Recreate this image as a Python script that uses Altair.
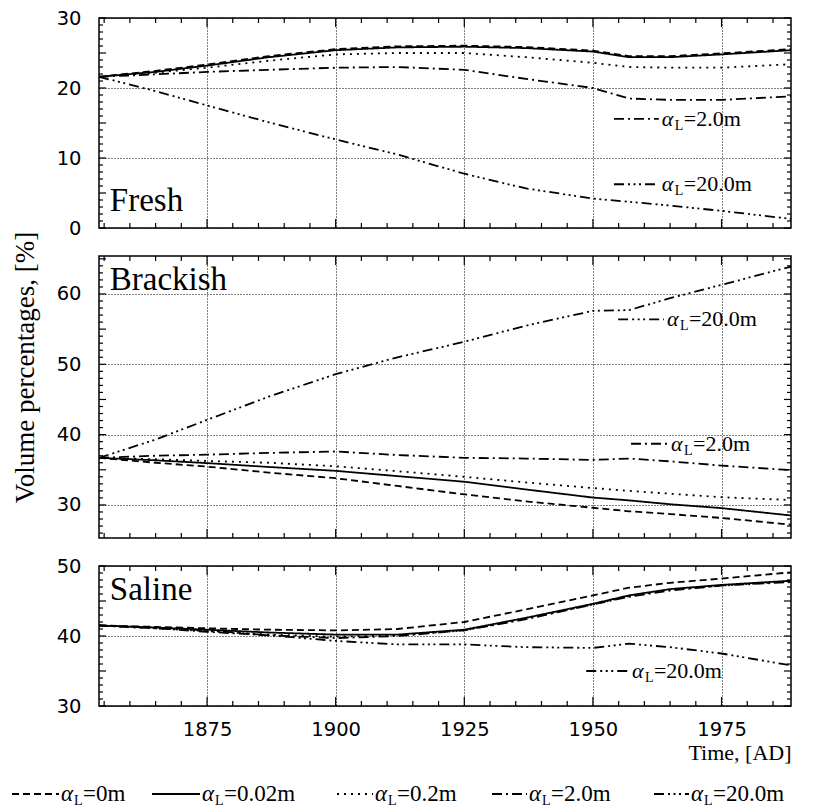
import math
import altair as alt
import pandas as pd

# ---------------- data ----------------
years = [1854, 1865, 1875, 1887, 1900, 1912, 1925, 1937, 1950, 1957, 1965, 1975, 1988.5]
series = ["0m", "0.02m", "0.2m", "2.0m", "20.0m"]

fresh_0m   = [21.6, 22.45, 23.35, 24.55, 25.55, 25.95, 26.05, 25.85, 25.35, 24.55, 24.55, 24.95, 25.55]
fresh_002m = [21.6, 22.3, 23.2, 24.4, 25.4, 25.8, 25.9, 25.7, 25.2, 24.4, 24.4, 24.8, 25.4]
fresh_02m  = [21.6, 22.2, 22.9, 23.9, 24.8, 25.0, 25.0, 24.4, 23.6, 23.0, 22.9, 22.9, 23.4]
fresh_2m   = [21.6, 21.95, 22.3, 22.6, 22.9, 23.0, 22.6, 21.3, 20.0, 18.5, 18.3, 18.3, 18.8]
fresh_20m  = [21.6, 19.55, 17.5, 15.1, 12.65, 10.5, 7.75, 5.65, 4.2, 3.75, 3.2, 2.45, 1.3]

brackish_0m   = [36.7, 36.0, 35.45, 34.6, 33.8, 32.7, 31.5, 30.5, 29.6, 29.1, 28.7, 28.15, 27.2]
brackish_002m = [36.7, 36.35, 35.95, 35.4, 34.85, 34.1, 33.3, 32.2, 31.05, 30.65, 30.1, 29.55, 28.5]
brackish_02m  = [36.7, 36.5, 36.25, 36.0, 35.5, 34.8, 34.0, 33.2, 32.4, 32.0, 31.6, 31.1, 30.7]
brackish_2m   = [36.7, 37.0, 37.15, 37.4, 37.6, 37.1, 36.7, 36.6, 36.4, 36.6, 36.2, 35.6, 34.95]
brackish_20m  = [36.7, 39.3, 42.1, 45.4, 48.6, 51.0, 53.2, 55.5, 57.6, 57.7, 59.4, 61.3, 63.9]

saline_0m   = [41.5, 41.3, 41.1, 40.9, 40.8, 41.0, 42.0, 43.8, 45.8, 46.9, 47.6, 48.2, 49.1]
saline_002m = [41.5, 41.2, 40.9, 40.5, 40.2, 40.2, 40.9, 42.6, 44.6, 45.8, 46.7, 47.3, 47.9]
saline_02m  = [41.5, 41.1, 40.7, 40.2, 39.9, 40.1, 40.8, 42.5, 44.5, 45.7, 46.6, 47.2, 47.8]
saline_2m   = [41.5, 41.1, 40.6, 40.1, 39.7, 40.0, 40.8, 42.4, 44.5, 45.6, 46.5, 47.2, 47.7]
saline_20m  = [41.5, 41.2, 40.8, 40.1, 39.3, 38.8, 38.8, 38.4, 38.3, 38.9, 38.4, 37.5, 35.8]

x_grid_years = [1875, 1900, 1925, 1950, 1975]
fresh_ticks = [0, 10, 20, 30]
brackish_ticks = [30, 40, 50, 60]
saline_ticks = [30, 40, 50]

panel_names = ["Fresh", "Brackish", "Saline"]
y_title = "Volume percentages, [%]"
x_title = "Time, [AD]"

# ---------------- style ----------------
W = 692
SANS = "DejaVu Sans"
SERIF = "Liberation Serif"
dash_range = [[7, 4], [1, 0], [2, 5], [10, 4, 2, 4], [10, 4, 2, 3.5, 2, 3.5, 2, 4]]
dash_scale = alt.Scale(domain=series, range=dash_range)
x_scale = alt.Scale(domain=[1854, 1988.5], nice=False, zero=False)
LW = 1.8


def long_df(vals):
    return pd.DataFrame([
        {"year": yr, "value": v, "series": s}
        for s, arr in zip(series, vals) for yr, v in zip(years, arr)
    ])


def make_panel(vals, ydom, yvals, H, annots, label, label_xy, bottom=False, ytitle=None):
    xkw = dict(values=x_grid_years, grid=True, gridColor="black", gridDash=[1, 2],
               gridWidth=1, ticks=False, tickSize=0, domain=False)
    if bottom:
        xaxis = alt.Axis(labels=True, labelFont=SANS, labelFontSize=19.5, labelColor="black",
                         labelPadding=14, labelFlush=False, format="d",
                         title=x_title, titleFont=SERIF, titleFontSize=22,
                         titleFontWeight="normal", titleColor="black", titleAnchor="end",
                         titleAlign="right", titlePadding=4, **xkw)
    else:
        xaxis = alt.Axis(labels=False, title=None, **xkw)
    ykw = dict(values=yvals, grid=True, gridColor="black", gridDash=[1, 2], gridWidth=1,
               ticks=False, tickSize=0, domain=False, labelFont=SANS, labelFontSize=19.5,
               labelColor="black", labelPadding=18, labelFlush=False, format="d")
    if ytitle:
        yaxis = alt.Axis(title=ytitle, titleX=-74, titleY=111, titleAngle=270,
                         titleAlign="center", titleBaseline="middle", titleFont=SERIF,
                         titleFontSize=27, titleFontWeight="normal", titleColor="black", **ykw)
    else:
        yaxis = alt.Axis(title=None, **ykw)

    X = alt.X("year:Q", scale=x_scale, axis=xaxis)
    Y = alt.Y("value:Q", scale=alt.Scale(domain=ydom, nice=False, zero=False), axis=yaxis)
    SD = alt.StrokeDash("series:N", scale=dash_scale, legend=None)

    lines = alt.Chart(long_df(vals)).mark_line(color="black", strokeWidth=LW).encode(
        X, Y, strokeDash=SD, detail="series:N")

    rows = []
    for i, a in enumerate(annots):
        rows.append({"year": a["x0"], "value": a["y"], "series": a["series"], "key": i})
        rows.append({"year": a["x1"], "value": a["y"], "series": a["series"], "key": i})
    samples = alt.Chart(pd.DataFrame(rows)).mark_line(color="black", strokeWidth=LW).encode(
        X, Y, strokeDash=SD, detail="key:N")
    tdf = pd.DataFrame([{"year": a["x1"], "value": a["y"], "text": a["text"]} for a in annots])
    alpha = alt.Chart(tdf).mark_text(text="α", font=SERIF, fontSize=22, fontStyle="italic",
                                     align="left", baseline="middle", dx=3, color="black").encode(X, Y)
    sub = alt.Chart(tdf).mark_text(text="L", font=SERIF, fontSize=14, align="left",
                                   baseline="middle", dx=16, dy=7, color="black").encode(X, Y)
    rest = alt.Chart(tdf).mark_text(font=SERIF, fontSize=22, align="left", baseline="middle",
                                    dx=25, color="black").encode(X, Y, text="text:N")

    lab = alt.Chart(pd.DataFrame([{"year": label_xy[0], "value": label_xy[1], "text": label}])).mark_text(
        font=SERIF, fontSize=33, align="left", baseline="alphabetic", color="black").encode(X, Y, text="text:N")

    # inward ticks on the frame
    x_minor = [y for y in range(1855, 1990, 5) if y % 25]
    lo, hi = ydom
    y_ints = list(range(math.ceil(lo), math.floor(hi) + 1))
    y_minor = [v for v in y_ints if v % 5]
    y_mid = [v for v in y_ints if v % 5 == 0]

    def xt(vs, length, top):
        d = pd.DataFrame({"year": vs})
        if top:
            enc = dict(y=alt.value(0), y2=alt.value(length))
        else:
            enc = dict(y=alt.value(H), y2=alt.value(H - length))
        return alt.Chart(d).mark_rule(color="black", strokeWidth=1.2).encode(X, **enc)

    def yt(vs, length, left):
        d = pd.DataFrame({"value": vs})
        if left:
            enc = dict(x=alt.value(0), x2=alt.value(length))
        else:
            enc = dict(x=alt.value(W), x2=alt.value(W - length))
        return alt.Chart(d).mark_rule(color="black", strokeWidth=1.2).encode(y=Y, **enc)

    ticks = [xt(x_minor, 5, True), xt(x_minor, 5, False), xt(x_grid_years, 9, True),
             xt(x_grid_years, 9, False), yt(y_minor, 4, True), yt(y_minor, 4, False),
             yt(y_mid, 7, True), yt(y_mid, 7, False)]

    return alt.layer(lines, samples, alpha, sub, rest, lab, *ticks).properties(width=W, height=H)


ann_fresh = [
    {"series": "2.0m", "x0": 1954.1, "x1": 1962.8, "y": 15.6, "text": "=2.0m"},
    {"series": "20.0m", "x0": 1954.1, "x1": 1962.8, "y": 6.25, "text": "=20.0m"},
]
ann_brackish = [
    {"series": "20.0m", "x0": 1954.9, "x1": 1963.8, "y": 56.4, "text": "=20.0m"},
    {"series": "2.0m", "x0": 1957.4, "x1": 1964.6, "y": 38.7, "text": "=2.0m"},
]
ann_saline = [
    {"series": "20.0m", "x0": 1948.7, "x1": 1957.0, "y": 35.0, "text": "=20.0m"},
]

p1 = make_panel([fresh_0m, fresh_002m, fresh_02m, fresh_2m, fresh_20m], [0, 30], fresh_ticks,
                210, ann_fresh, panel_names[0], (1856.1, 2.4))
p2 = make_panel([brackish_0m, brackish_002m, brackish_02m, brackish_2m, brackish_20m], [25.3, 65.4],
                brackish_ticks, 282, ann_brackish, panel_names[1], (1856.1, 60.6), ytitle=y_title)
p3 = make_panel([saline_0m, saline_002m, saline_02m, saline_2m, saline_20m], [30, 50], saline_ticks,
                140, ann_saline, panel_names[2], (1856.1, 45.2), bottom=True)

# ---------------- custom legend row ----------------
leg_starts = [11, 151, 336, 491, 653]
leg_ends = [58, 199, 372, 526, 688]
LX = alt.X("lx:Q", scale=alt.Scale(domain=[98, 98 + W], nice=False, zero=False), axis=None)
LY = alt.Y("ly:Q", scale=alt.Scale(domain=[0, 1], nice=False, zero=False), axis=None)
lrows = []
for i, s in enumerate(series):
    lrows.append({"lx": leg_starts[i], "ly": 0, "series": s, "key": i})
    lrows.append({"lx": leg_ends[i], "ly": 0, "series": s, "key": i})
ltext = pd.DataFrame([{"lx": leg_ends[i], "ly": 0, "text": "=" + s} for i, s in enumerate(series)])
leg_lines = alt.Chart(pd.DataFrame(lrows)).mark_line(color="black", strokeWidth=LW).encode(
    LX, LY, strokeDash=alt.StrokeDash("series:N", scale=dash_scale, legend=None), detail="key:N")
leg_a = alt.Chart(ltext).mark_text(text="α", font=SERIF, fontSize=23, fontStyle="italic", align="left",
                                   baseline="middle", dx=2, color="black").encode(LX, LY)
leg_l = alt.Chart(ltext).mark_text(text="L", font=SERIF, fontSize=14, align="left", baseline="middle",
                                   dx=15, dy=7, color="black").encode(LX, LY)
leg_t = alt.Chart(ltext).mark_text(font=SERIF, fontSize=23, align="left", baseline="middle", dx=24,
                                   color="black").encode(LX, LY, text="text:N")
leg = alt.layer(leg_lines, leg_a, leg_l, leg_t).properties(
    width=W, height=60, view=alt.ViewBackground(strokeOpacity=0))

chart = alt.vconcat(p1, p2, p3, leg, spacing=28, bounds="flush").properties(
    padding={"left": 0, "top": -1, "right": 0, "bottom": 0}
).configure_view(stroke="black", strokeWidth=1.5)

chart.save("out.html", embed_options={"renderer": "svg", "actions": False})
